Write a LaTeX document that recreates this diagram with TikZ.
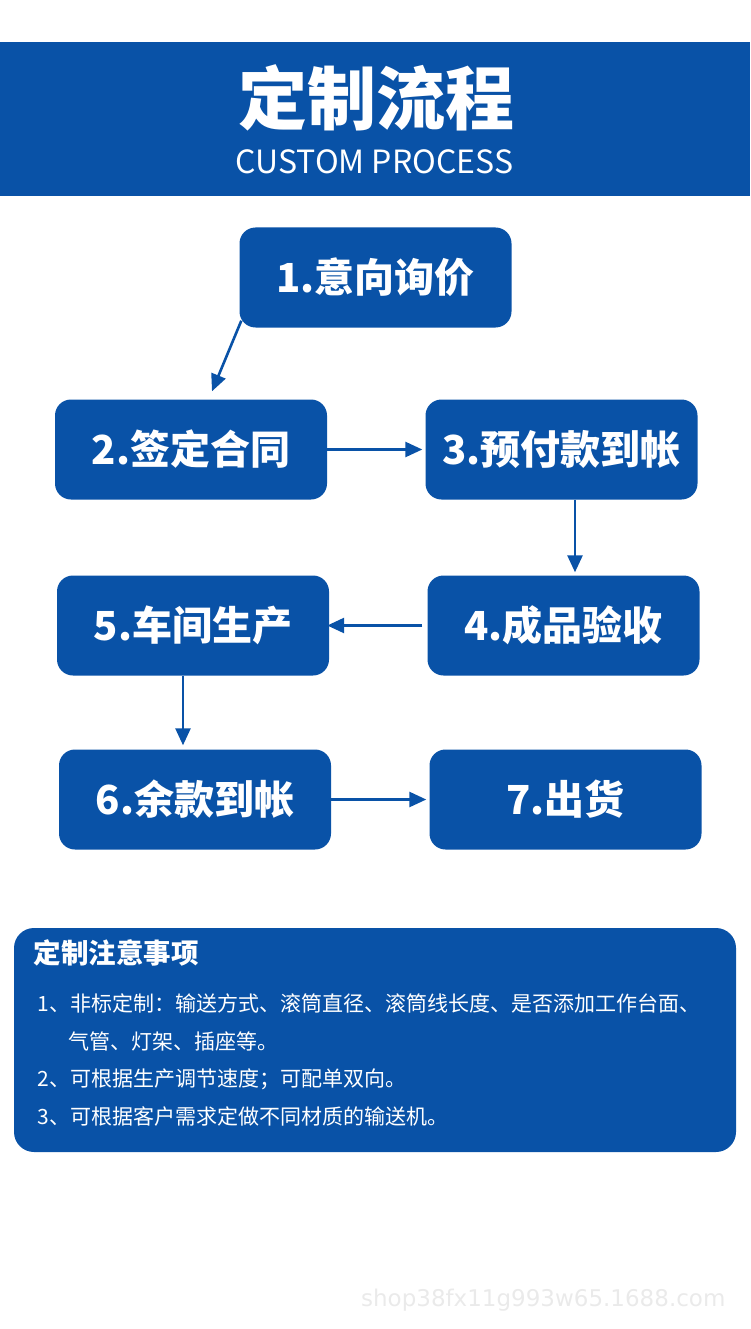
\documentclass[tikz,border=0pt]{standalone}
\usepackage{fontspec}
\setmainfont{Noto Sans CJK SC}
\newfontfamily\wmfont{DejaVu Sans}
\usepackage{xcolor}
\usepackage{tikz}
\usetikzlibrary{arrows.meta,positioning,calc}
\definecolor{flowblue}{RGB}{9,82,167}
\definecolor{wmgrey}{RGB}{234,234,234}

\begin{document}
\begin{tikzpicture}[x=1pt,y=-1pt,
    stepbox/.style={rectangle, fill=flowblue, rounded corners=16pt,
                    minimum width=272pt, minimum height=100pt,
                    font=\fontsize{40}{42}\selectfont\bfseries, text=white},
    flow/.style={-{Triangle[length=17pt,width=15pt]}, line width=2.6pt, flowblue},
    note/.style={anchor=west, font=\fontsize{21}{24}\selectfont, text=white},
  ]
  \useasboundingbox (0,0) rectangle (750,1329);

  % Header
  \fill[flowblue] (0,42) rectangle (750,196);
  \node[text=white, font=\fontsize{69}{72}\selectfont\bfseries] (title) at (376,98) {定制流程};
  \node[text=white, font=\fontsize{32}{36}\selectfont] (subtitle) at (374.5,162) {CUSTOM PROCESS};

  % Steps
  \node[stepbox] (s1) at (375.5,277.5) {1.意向询价};
  \node[stepbox] (s2) at (191,449.5) {2.签定合同};
  \node[stepbox] (s3) at (561.5,449.5) {3.预付款到帐};
  \node[stepbox] (s4) at (563.5,625.5) {4.成品验收};
  \node[stepbox] (s5) at (193,625.5) {5.车间生产};
  \node[stepbox] (s6) at (195,799.5) {6.余款到帐};
  \node[stepbox] (s7) at (565.5,799.5) {7.出货};

  % Arrows
  \draw[flow] ($(s1.south west)+(2,-7)$) -- ($(s2.north)+(21,-8)$);
  \draw[flow, shorten >=3pt] (s2.east) -- (s3.west);
  \draw[flow] ($(s3.south)+(13.5,0)$) -- ($(s4.north)+(11.5,-3)$);
  \draw[flow, shorten <=5pt, shorten >=-2pt] (s4.west) -- (s5.east);
  \draw[flow] ($(s5.south)+(-10,0)$) -- ($(s6.north)+(-12,-4)$);
  \draw[flow, shorten >=3pt] (s6.east) -- (s7.west);

  % Notes
  \node[fill=flowblue, rounded corners=20pt, minimum width=722pt,
        minimum height=224pt] (notes) at (375,1040) {};
  \node[anchor=west, text=white, font=\fontsize{27.5}{30}\selectfont\bfseries]
    (notetitle) at (30,953) {定制注意事项};
  \node[note] (n1) at (34,1003) {1、非标定制：输送方式、滚筒直径、滚筒线长度、是否添加工作台面、};
  \node[note] (n1b) at (65,1041) {气管、灯架、插座等。};
  \node[note] (n2) at (34,1079) {2、可根据生产调节速度；可配单双向。};
  \node[note] (n3) at (34,1116) {3、可根据客户需求定做不同材质的输送机。};

  % Watermark
  \node[anchor=east, text=wmgrey, font=\wmfont\fontsize{23}{26}\selectfont]
    (mark) at (729,1300) {shop38fx11g993w65.1688.com};
\end{tikzpicture}
\end{document}
